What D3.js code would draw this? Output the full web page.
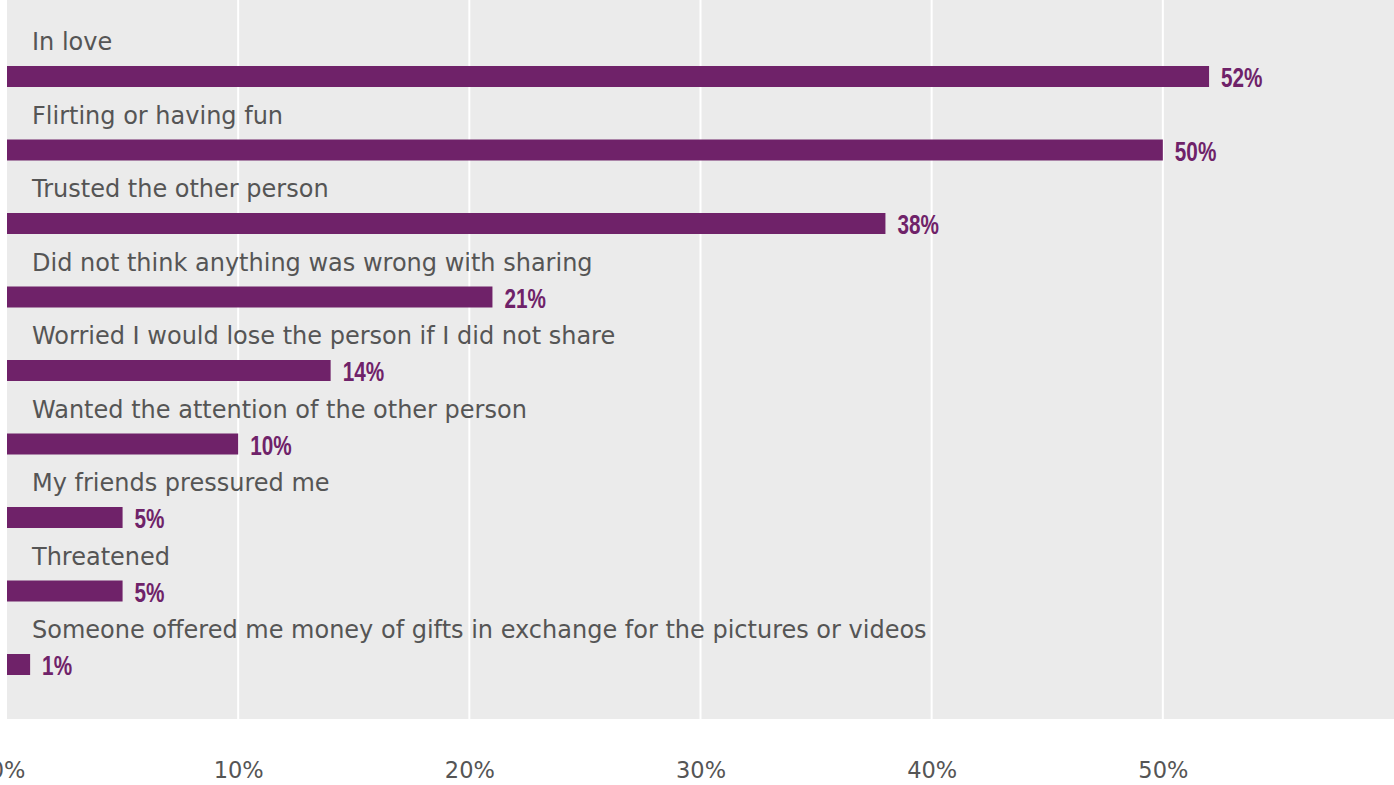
<!DOCTYPE html>
<html>
<head>
<meta charset="utf-8">
<script src="https://cdn.jsdelivr.net/npm/d3@7"></script>
<style>
  body { margin: 0; background: #fff; }
  svg { display: block; }
</style>
</head>
<body>
<div id="chart"></div>
<script>
// categories, top to bottom
var categories = [
  "In love",
  "Flirting or having fun",
  "Trusted the other person",
  "Did not think anything was wrong with sharing",
  "Worried I would lose the person if I did not share",
  "Wanted the attention of the other person",
  "My friends pressured me",
  "Threatened",
  "Someone offered me money of gifts in exchange for the pictures or videos"
];
// percent of respondents
var values = [52, 50, 38, 21, 14, 10, 5, 5, 1];
var tickValues = [0, 10, 20, 30, 40, 50];

var width = 1394, height = 785;
var plotLeft = 7, plotTop = 0, plotBottom = 719;

var svg = d3.select('#chart')
  .append('svg')
  .attr('width', width)
  .attr('height', height);

// x scale: 0..60% across the grey panel
var x = d3.scaleLinear().domain([0, 60]).range([plotLeft, width]);

// one band per category
var y = d3.scaleBand()
  .domain(categories)
  .range([14, 14 + 73.5 * categories.length])
  .paddingInner(0);

// grey panel
svg.append('rect')
  .attr('x', plotLeft)
  .attr('y', plotTop)
  .attr('width', width - plotLeft)
  .attr('height', plotBottom - plotTop)
  .attr('fill', '#ebebeb');

// gridlines
svg.selectAll('.grid')
  .data(tickValues.slice(1))
  .enter()
  .append('line')
  .attr('class', 'grid')
  .attr('x1', function(d) { return x(d); })
  .attr('x2', function(d) { return x(d); })
  .attr('y1', plotTop)
  .attr('y2', plotBottom)
  .attr('stroke', '#ffffff')
  .attr('stroke-width', 2);

var rows = categories.map(function(c, i) { return { label: c, value: values[i] }; });

// bars
svg.selectAll('.bar')
  .data(rows)
  .enter()
  .append('rect')
  .attr('class', 'bar')
  .attr('x', x(0))
  .attr('y', function(d) { return y(d.label) + 52; })
  .attr('width', function(d) { return x(d.value) - x(0); })
  .attr('height', 21)
  .attr('fill', '#6f2269');

// category labels
svg.selectAll('.cat')
  .data(rows)
  .enter()
  .append('text')
  .attr('class', 'cat')
  .attr('x', 32)
  .attr('y', function(d) { return y(d.label) + 36; })
  .attr('fill', '#555555')
  .style('font-family', '"DejaVu Sans", sans-serif')
  .style('font-size', '24px')
  .text(function(d) { return d.label; });

// value labels
svg.selectAll('.val')
  .data(rows)
  .enter()
  .append('text')
  .attr('class', 'val')
  .attr('transform', function(d) {
    return 'translate(' + (x(d.value) + 12) + ',' + (y(d.label) + 73) + ') scale(0.74,1)';
  })
  .attr('fill', '#6f2269')
  .style('font-family', '"Liberation Sans Narrow", "Liberation Sans", sans-serif')
  .style('font-weight', 'bold')
  .style('font-size', '28px')
  .text(function(d) { return d.value + '%'; });

// x axis labels
var axis = svg.append('g')
  .attr('transform', 'translate(0,778)')
  .call(d3.axisBottom(x).tickValues(tickValues).tickSize(0).tickPadding(0)
    .tickFormat(function(d) { return d + '%'; }));
axis.select('.domain').remove();
axis.selectAll('text')
  .attr('dy', 0)
  .attr('fill', '#555555')
  .style('font-family', '"DejaVu Sans", sans-serif')
  .style('font-size', '22.5px');
</script>
</body>
</html>
